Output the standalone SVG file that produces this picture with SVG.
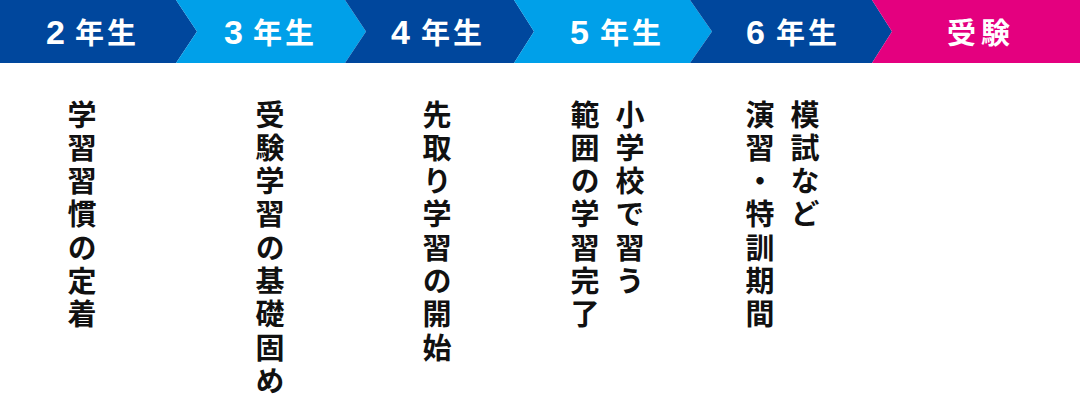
<svg xmlns="http://www.w3.org/2000/svg" width="1080" height="404" viewBox="0 0 1080 404">
<style>
.dark{fill:#00479d}
.light{fill:#00a0e9}
.pink{fill:#e4007f}
.hd{font-family:"Noto Sans CJK JP","Noto Sans",sans-serif;font-weight:700;font-size:29px;fill:#fff}
.num{font-family:"Liberation Sans",Arial,sans-serif;font-size:34px}
.vt{font-family:"Noto Sans CJK JP","Noto Sans",sans-serif;font-weight:700;font-size:29px;fill:#111;writing-mode:vertical-rl;letter-spacing:4.3px}
</style>
<rect width="1080" height="404" fill="#fff"/>
<g id="header">
<g id="g2"><polygon class="dark" points="0,0 176,0 197,31.5 176,63 0,63"/><text class="hd" y="44"><tspan class="num" x="46">2</tspan><tspan x="75">年</tspan><tspan x="107">生</tspan></text></g>
<g id="g3"><polygon class="light" points="176,0 345,0 366,31.5 345,63 176,63 197,31.5"/><text class="hd" y="44"><tspan class="num" x="224">3</tspan><tspan x="253">年</tspan><tspan x="285">生</tspan></text></g>
<g id="g4"><polygon class="dark" points="345,0 514,0 534,31.5 514,63 345,63 366,31.5"/><text class="hd" y="44"><tspan class="num" x="391">4</tspan><tspan x="421">年</tspan><tspan x="453">生</tspan></text></g>
<g id="g5"><polygon class="light" points="514,0 690,0 712,31.5 690,63 514,63 534,31.5"/><text class="hd" y="44"><tspan class="num" x="570">5</tspan><tspan x="600">年</tspan><tspan x="632">生</tspan></text></g>
<g id="g6"><polygon class="dark" points="690,0 872,0 892,31.5 872,63 690,63 712,31.5"/><text class="hd" y="44"><tspan class="num" x="746">6</tspan><tspan x="776">年</tspan><tspan x="808">生</tspan></text></g>
<g id="exam"><polygon class="pink" points="872,0 1080,0 1080,63 872,63 892,31.5"/><text class="hd" y="44"><tspan x="947">受</tspan><tspan x="981">験</tspan></text></g>
</g>
<g id="connectors"></g>
<g id="desc">
<g id="d2"><text class="vt" x="82" y="100">学習習慣の定着</text></g>
<g id="d3"><text class="vt" x="270" y="100">受験学習の基礎固め</text></g>
<g id="d4"><text class="vt" x="437" y="100">先取り学習の開始</text></g>
<g id="d5"><text class="vt" x="630" y="100">小学校で習う</text><text class="vt" x="585" y="100">範囲の学習完了</text></g>
<g id="d6"><text class="vt" x="805" y="100">模試など</text><text class="vt" x="760" y="100">演習・特訓期間</text></g>
</g>
</svg>
